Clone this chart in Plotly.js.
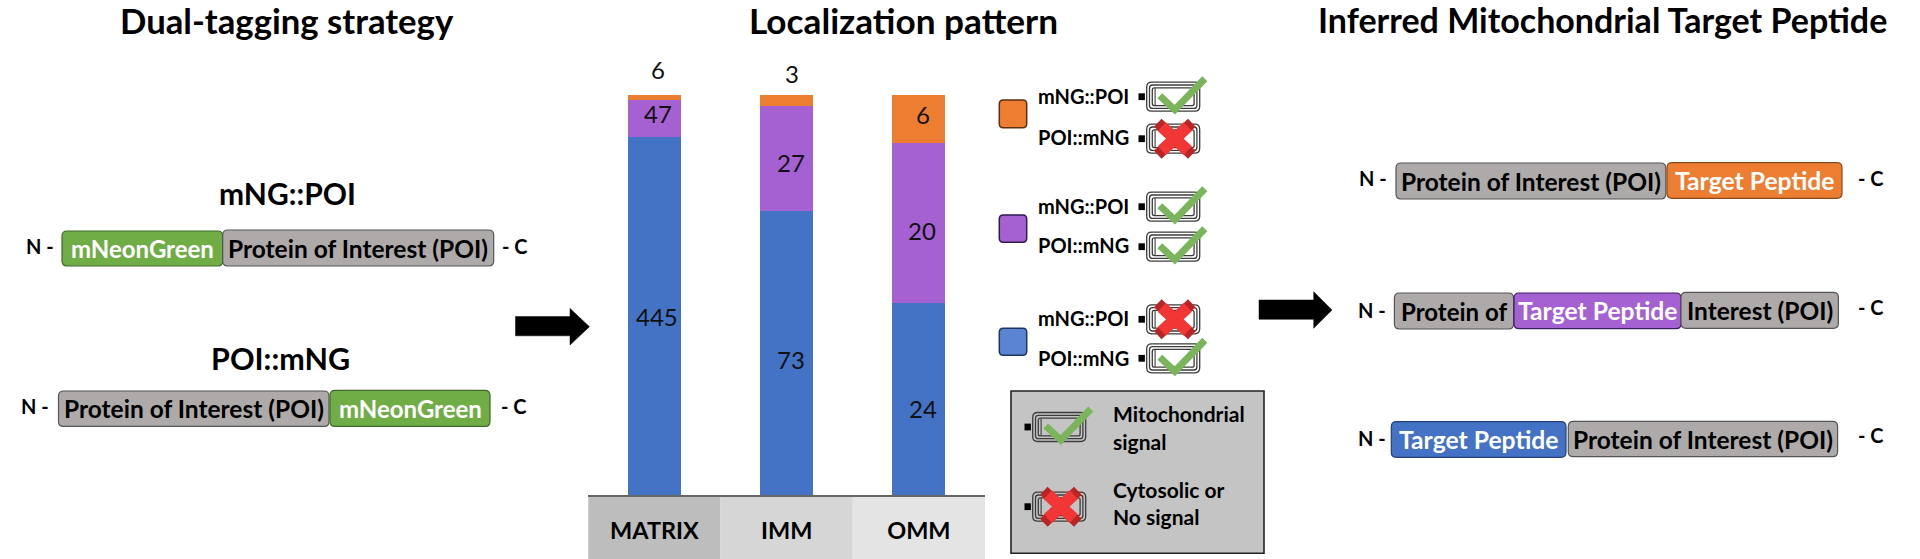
<!DOCTYPE html>
<html><head><meta charset="utf-8">
<script src="https://cdn.plot.ly/plotly-3.0.1.min.js"></script>
<style>html,body{margin:0;padding:0;background:#fff;overflow:hidden}#chart{width:1920px;height:559px}</style>
</head><body><div id="chart"></div>
<script>
// ---- data ----
const categories = ["MATRIX", "IMM", "OMM"];
const blueValues = [445, 73, 24];
const purpleValues = [47, 27, 20];
const orangeValues = [6, 3, 6];

const titles = ["Dual-tagging strategy", "Localization pattern", "Inferred Mitochondrial Target Peptide"];
const constructNames = ["mNG::POI", "POI::mNG"];
const keyLabels = ["Mitochondrial", "signal", "Cytosolic or", "No signal"];

// ---- page geometry ----
const W = 1920, H = 559;
const PX = x => x / W, PY = y => 1 - y / H;
const FONT = 'Lato, "Open Sans", sans-serif';
const C = {green:'#70ad47', gray:'#aeaaaa', orange:'#ed7d31', purple:'#a561d1', blue:'#4472c4', check:'#7ab55c', red:'#f23636', dred:'#bb2424', ink:'#000'};
const plotL = 588.3, plotR = 985, plotT = 94.7, plotB = 495;

const shapes = [], annotations = [];
function label(text, x, y, size, opt) {
  opt = opt || {};
  annotations.push({text, xref:'paper', yref:'paper', x:PX(x), y:PY(y), showarrow:false,
    xanchor:opt.anchor||'center', yanchor:'middle', borderpad:0,
    font:{family:FONT, size, color:opt.color||C.ink, weight:opt.weight===undefined?700:opt.weight}});
}
function rr(x0, y0, x1, y1, r) {
  const p = (x,y)=>PX(x)+','+PY(y);
  return 'M'+p(x0+r,y0)+' L'+p(x1-r,y0)+' Q'+p(x1,y0)+' '+p(x1,y0+r)+' L'+p(x1,y1-r)+' Q'+p(x1,y1)+' '+p(x1-r,y1)+
    ' L'+p(x0+r,y1)+' Q'+p(x0,y1)+' '+p(x0,y1-r)+' L'+p(x0,y0+r)+' Q'+p(x0,y0)+' '+p(x0+r,y0)+' Z';
}
function box(x0,y0,x1,y1,r,fill,line,lw,layer){
  shapes.push({type:'path', xref:'paper', yref:'paper', path:rr(x0,y0,x1,y1,r), fillcolor:fill,
    line:{color:line,width:lw===undefined?1.2:lw}, layer:layer||'above'});
}
function poly(pts, color, width, fill){
  const d = pts.map((q,i)=>(i?'L':'M')+PX(q[0])+','+PY(q[1])).join(' ')+(fill?' Z':'');
  shapes.push({type:'path', xref:'paper', yref:'paper', path:d, fillcolor:fill||'rgba(0,0,0,0)',
    line:{color:color,width:width}, layer:'above'});
}
function pill(x0,y0,x1,y1,fill,text,textColor,size){
  const edge = {[C.green]:'#3f6b28',[C.gray]:'#555',[C.orange]:'#8a4a1c',[C.purple]:'#3c2060',[C.blue]:'#25407a'}[fill];
  box(x0,y0,x1,y1,5,fill,edge,1.2);
  label(text,(x0+x1)/2,(y0+y1)/2,size,{color:textColor});
}
function arrow(x0,xh,x1,y0,y1,h0,h1){
  poly([[x0,y0],[xh,y0],[xh,h0],[x1,(h0+h1)/2],[xh,h1],[xh,y1],[x0,y1]],'#000',0.5,'#000');
}
function ends(nx,ny,cx,cy){
  label('N -',nx,ny,20,{anchor:'left'});
  label('- C',cx,cy,20,{anchor:'left'});
}
function battery(x0, cy, w, h, kind){
  const y0=cy-h/2, y1=cy+h/2, g='rgba(0,0,0,0)', e='#3c3c3c';
  shapes.push({type:'rect',xref:'paper',yref:'paper',x0:PX(x0-8.2),x1:PX(x0-1.8),y0:PY(cy+3.4),y1:PY(cy-3.4),fillcolor:'#000',line:{width:0},layer:'above'});
  box(x0,y0,x0+w,y1,5,g,e,1.3);
  box(x0+2.8,y0+2.8,x0+w-2.8,y1-2.8,3,g,e,1.3);
  box(x0+5.6,y0+5.6,x0+w-5.6,y1-5.6,2,g,e,1.3);
  poly([[x0+8.4,y0+6],[x0+8.4,y1-6]],e,1.1);
  const mx=x0+w/2+1.6;
  if(kind==='ok'){
    poly([[mx-15,cy-1],[mx,cy+13],[mx+30,cy-18]],C.check,7);
  } else {
    poly([[mx-17,cy-16],[mx+17,cy+16]],C.dred,11);
    poly([[mx-17,cy+16],[mx+17,cy-16]],C.dred,11);
    poly([[mx-13,cy-12],[mx+13,cy+12]],C.red,12);
    poly([[mx-13,cy+12],[mx+13,cy-12]],C.red,12);
  }
}

// ---- titles ----
label(titles[0], 286.5, 20, 34.7);
label(titles[1], 903, 20, 35.2);
label(titles[2], 1602, 19, 34);

// ---- left panel ----
label(constructNames[0], 287, 192.5, 30);
label(constructNames[1], 280.5, 358, 30.5);
ends(25,246,501,246);
pill(62,231,222.7,266,C.green,'mNeonGreen','#fff',24);
pill(222.7,230,493.7,266,C.gray,'Protein of Interest (POI)','#000',24.5);
ends(20,406,500,406);
pill(58.5,391,329,426.4,C.gray,'Protein of Interest (POI)','#000',24.5);
pill(330,390.4,490,426.4,C.green,'mNeonGreen','#fff',24);
arrow(515.5,570,589.4,316.6,335.8,308.4,345);

// ---- category bands under the bars ----
const bandFill = ['#bdbdbd','#d6d6d6','#e4e4e4'];
categories.forEach((c,i)=>{
  const w=(plotR-plotL)/categories.length;
  shapes.push({type:'rect',xref:'paper',yref:'paper',x0:PX(plotL+i*w),x1:PX(plotL+(i+1)*w),y0:PY(559),y1:PY(plotB),fillcolor:bandFill[i],line:{width:0},layer:'below'});
});

// ---- count labels, positioned from the data ----
function segLabel(i, v, base, total, dx, dy){
  annotations.push({text:String(v), xref:'x', yref:'y', x:i, y:(base+v/2)/total*100, xshift:dx, yshift:dy,
    showarrow:false, xanchor:'center', yanchor:'middle', borderpad:0, font:{family:FONT,size:24,color:'#111'}});
}
categories.forEach((c,i)=>{
  const t=blueValues[i]+purpleValues[i]+orangeValues[i];
  const dxB=[3,4,4][i], dyB=[0,-6,-10][i], dxP=[4,4,3][i], dyP=[5,-4,-8][i];
  segLabel(i,blueValues[i],0,t,dxB,dyB);
  segLabel(i,purpleValues[i],blueValues[i],t,dxP,dyP);
  if(i===2) segLabel(i,orangeValues[i],blueValues[i]+purpleValues[i],t,4,4);
});
[[0,70,3.5],[1,74,5]].forEach(q=>{
  annotations.push({text:String(orangeValues[q[0]]), xref:'x', yref:'y', x:q[0], y:100, yshift:plotT-q[1], xshift:q[2],
    showarrow:false, xanchor:'center', yanchor:'middle', borderpad:0, font:{family:FONT,size:24,color:'#111'}});
});

// ---- legend ----
const swatchRows = [[100,127.7,C.orange,'#5a3010'],[215,242.3,C.purple,'#301a50'],[328.3,355.3,'#5b84d2','#1d3560']];
swatchRows.forEach(s=>box(999.3,s[0],1026.7,s[1],4,s[2],s[3],1.5));
const legendRows = [[0,96,96.7,'ok'],[1,137.3,138.7,'no'],[0,206,206.7,'ok'],[1,245.3,246.7,'ok'],[0,318.3,319.3,'no'],[1,358.3,358.3,'ok']];
legendRows.forEach(r=>{
  label(constructNames[r[0]],1083,r[1],20);
  battery(1146.7,r[2],53,29,r[3]);
});
box(1011,391,1264,553.3,0,'#c4c4c4','#222',1.6);
battery(1032.7,427,53,29,'ok');
battery(1032.7,506.7,53,29,'no');
label(keyLabels[0],1112,413,21,{anchor:'left'});
label(keyLabels[1],1112,441,21,{anchor:'left'});
label(keyLabels[2],1112,489.3,21,{anchor:'left'});
label(keyLabels[3],1112,516.7,21,{anchor:'left'});

// ---- right panel ----
arrow(1259,1313.7,1332,300,319.3,291.7,328.3);
ends(1358,178,1857,178);
pill(1396,163,1665.8,199,C.gray,'Protein of Interest (POI)','#000',24.5);
pill(1667,162.7,1842,198.3,C.orange,'Target Peptide','#fff',24.7);
ends(1357,310,1857,306.7);
pill(1394.4,293,1513.6,329,C.gray,'Protein of','#000',24);
pill(1514,293,1681,328.7,C.purple,'Target Peptide','#fff',24.7);
pill(1681,292.3,1838.4,328.3,C.gray,'Interest (POI)','#000',24.5);
ends(1357,438.3,1857,435);
pill(1391.3,421.7,1566,457.3,C.blue,'Target Peptide','#fff',24.7);
pill(1568.3,421.3,1837.6,456.7,C.gray,'Protein of Interest (POI)','#000',24.5);

// ---- stacked bars ----
const trace = (name, values, color) => ({type:'bar', name, x:categories, y:values, width:0.4,
  marker:{color, line:{width:0}}, hoverinfo:'skip'});
const data = [
  trace('mNG::POI absent, POI::mNG present', blueValues, C.blue),
  trace('Both present', purpleValues, C.purple),
  trace('mNG::POI present, POI::mNG absent', orangeValues, C.orange)
];
const layout = {
  width:W, height:H, margin:{l:0,r:0,t:0,b:0,pad:0}, paper_bgcolor:'#fff', plot_bgcolor:'rgba(0,0,0,0)',
  barmode:'stack', barnorm:'percent', showlegend:false,
  xaxis:{domain:[PX(plotL),PX(plotR)], type:'category', categoryorder:'array', categoryarray:categories,
    range:[-0.5,2.5], showgrid:false, zeroline:false, showline:true, linecolor:'#666', linewidth:1.5,
    ticks:'', ticklabelstandoff:14, tickfont:{family:FONT,size:23.5,color:'#000',weight:700}},
  yaxis:{domain:[PY(plotB),PY(plotT)], range:[0,100], visible:false, fixedrange:true},
  shapes, annotations
};
Plotly.newPlot('chart', data, layout, {displayModeBar:false, staticPlot:true});
</script></body></html>
